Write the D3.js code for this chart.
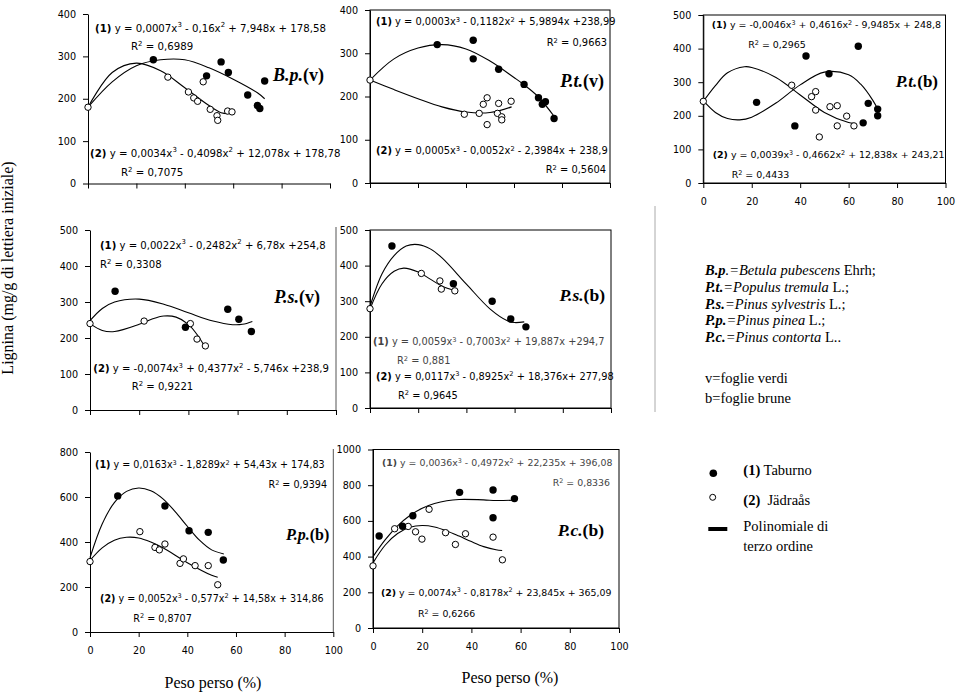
<!DOCTYPE html>
<html>
<head>
<meta charset="utf-8">
<script src="https://cdn.jsdelivr.net/npm/d3@7"></script>
<style>
  body { margin: 0; background: #fff; }
  svg { display: block; }
</style>
</head>
<body>
<div id="chart"></div>
<script>
// Lignina (mg/g di lettiera iniziale) vs peso perso (%), 7 pannelli

const width = 958;
const height = 693;

// tick values
const xTicks = [0, 20, 40, 60, 80, 100];
const yTicks400 = [0, 100, 200, 300, 400];
const yTicks500 = [0, 100, 200, 300, 400, 500];
const yTicks800 = [0, 200, 400, 600, 800];
const yTicks1000 = [0, 200, 400, 600, 800, 1000];

// [peso perso %, lignina] -- (1) Taburno = pieni, (2) Jädraås = vuoti
// B.p.(v)
const bpvTaburno = [[27,292],[49,254],[55,287],[58,262],[66,209],[70,184],[71,177],[73,242]];
const bpvJadraas = [[0,180],[33,251],[41.5,216],[43.7,202],[45.3,194],[47.6,240],[50.5,175],[53.3,160],[53.6,149],[57.7,171],[59.5,169]];
const bpvFit1 = [[0,180],[10,240],[20,278],[30,292],[40,292],[50,273],[60,246],[70,214],[73,200]];
const bpvFit2 = [[0,180],[10,262],[20,284],[30,266],[40,226],[50,184],[55,167],[58,165]];
// P.t.(v)
const ptvTaburno = [[28,320],[43,330],[43,287],[53.6,263],[64.2,228],[70.2,197],[71.8,182],[73.1,188],[76.7,149]];
const ptvJadraas = [[0,238],[39.3,159],[45.5,161],[47.2,182],[48.8,197],[48.8,135],[53.6,184],[53.1,161],[54.9,153],[54.9,146],[58.8,189]];
const ptvFit1 = [[0,238],[10,287],[20,312],[30,320],[40,310],[50,282],[60,244],[64,228],[70,200],[77,152]];
const ptvFit2 = [[0,238],[10,216],[20,195],[30,176],[40,164],[50,163],[59,176]];
// P.t.(b)
const ptbTaburno = [[22,240],[37.8,170],[42.4,378],[51.9,325],[64,407],[66,179],[68.1,237],[72,220],[72,200]];
const ptbJadraas = [[0,243],[36.5,291],[44.7,257],[46.4,272],[46.4,217],[52.3,227],[47.9,137],[55.3,230],[55.3,170],[59.2,199],[62.2,170]];
const ptbFit1 = [[0,245],[5,210],[10,192],[15,188],[20,196],[30,238],[40,292],[50,330],[60,322],[65,294],[70,246],[72,220]];
const ptbFit2 = [[0,243],[5,290],[10,328],[17,346],[20,344],[30,314],[40,262],[50,210],[60,180],[62,178]];
// P.s.(v)
const psvTaburno = [[10.2,330],[38.8,230],[56,280],[60.5,252],[65.6,218]];
const psvJadraas = [[0,240],[22,247],[40.8,240],[43.5,197],[46.9,178]];
const psvFit1 = [[0,248],[5,282],[10,300],[20,308],[30,294],[40,270],[50,247],[58,237],[62,238],[66,246]];
const psvFit2 = [[0,240],[5,221],[10,218],[20,238],[25,252],[30,261],[35,258],[40,238],[44,205],[46.5,178]];
// P.s.(b)
const psbTaburno = [[9.1,455],[34.6,349],[50.7,300],[58.4,250],[64.7,228]];
const psbJadraas = [[0,279],[21.3,378],[29,357],[29.6,334],[35.2,329]];
const psbFit1 = [[0,285],[5,377],[10,428],[15,455],[20,459],[25,447],[30,421],[40,348],[50,277],[57,245],[60,240],[64,242]];
const psbFit2 = [[0,278],[5,349],[10,384],[14,393],[20,382],[25,362],[30,342],[35,330]];
// P.p.(b)
const ppbTaburno = [[11.4,605],[30.8,560],[40.7,450],[48.6,443],[54.8,320]];
const ppbJadraas = [[0,313],[20.5,446],[26.7,376],[28.5,365],[30.8,391],[37,305],[38.4,325],[43.2,295],[48.6,295],[52.5,210]];
const ppbFit1 = [[0,330],[5,480],[10,575],[15,625],[20,640],[25,628],[30,592],[35,535],[40,470],[45,408],[50,365],[55,347]];
const ppbFit2 = [[0,318],[5,374],[10,408],[15,421],[20,418],[25,400],[30,374],[40,308],[50,252],[52.5,243]];
// P.c.(b)
const pcbTaburno = [[2.5,515],[12,570],[16.2,629],[35.2,760],[48.8,773],[48.8,618],[57.5,725]];
const pcbJadraas = [[0,348],[8.8,556],[14.3,569],[17.3,539],[19.9,498],[22.8,665],[29.5,534],[33.5,468],[37.6,528],[48.8,509],[52.6,382]];
const pcbFit1 = [[0,400],[5,495],[10,572],[15,630],[20,671],[25,697],[30,713],[35,720],[45,718],[50,714],[57,716]];
const pcbFit2 = [[0,365],[5,465],[10,529],[15,564],[20,574],[25,566],[30,544],[35,515],[40,484],[45,456],[50,438],[52.5,434]];

// equations (^n = apice)
const eqBpv = ["(1) y = 0,0007x^3 - 0,16x^2 + 7,948x + 178,58", "R^2 = 0,6989", "(2) y = 0,0034x^3 - 0,4098x^2 + 12,078x + 178,78", "R^2 = 0,7075"];
const eqPtv = ["(1) y = 0,0003x^3 - 0,1182x^2 + 5,9894x +238,99", "R^2 = 0,9663", "(2) y = 0,0005x^3 - 0,0052x^2 - 2,3984x + 238,9", "R^2 = 0,5604"];
const eqPtb = ["(1) y = -0,0046x^3 + 0,4616x^2 - 9,9485x + 248,8", "R^2 = 0,2965", "(2) y = 0,0039x^3 - 0,4662x^2 + 12,838x + 243,21", "R^2 = 0,4433"];
const eqPsv = ["(1) y = 0,0022x^3 - 0,2482x^2 + 6,78x +254,8", "R^2 = 0,3308", "(2) y = -0,0074x^3 + 0,4377x^2 - 5,746x +238,9", "R^2 = 0,9221"];
const eqPsb = ["(1) y = 0,0059x^3 - 0,7003x^2 + 19,887x +294,7", "R^2 = 0,881", "(2) y = 0,0117x^3 - 0,8925x^2 + 18,376x+ 277,98", "R^2 = 0,9645"];
const eqPpb = ["(1) y = 0,0163x^3 - 1,8289x^2 + 54,43x + 174,83", "R^2 = 0,9394", "(2) y = 0,0052x^3 - 0,577x^2 + 14,58x + 314,86", "R^2 = 0,8707"];
const eqPcb = ["(1) y = 0,0036x^3 - 0,4972x^2 + 22,235x + 396,08", "R^2 = 0,8336", "(2) y = 0,0074x^3 - 0,8178x^2 + 23,845x + 365,09", "R^2 = 0,6266"];

const speciesText = ["B.p.", "P.t.", "P.t.", "P.s.", "P.s.", "P.p.", "P.c."];
const typeText = ["(v)", "(v)", "(b)", "(v)", "(b)", "(b)", "(b)"];

const legendSpecies = [
  ["B.p", ".=", "Betula pubescens", " Ehrh;"],
  ["P.t.", "=", "Populus tremula", " L.;"],
  ["P.s.", "=", "Pinus sylvestris", " L.;"],
  ["P.p.", "=", "Pinus pinea", " L.;"],
  ["P.c.", "=", "Pinus contorta", " L.."]
];
const legendTypes = ["v=foglie verdi", "b=foglie brune"];
const legendMarks = ["(1)", " Taburno", "(2)", "  Jädraås", "Polinomiale di", "terzo ordine"];

const yTitle = "Lignina (mg/g di lettiera iniziale)";
const xTitle = "Peso perso (%)";

// panel placement (fs = equation font size, ls = label font size)
const panels = [
  {taburno: bpvTaburno, jadraas: bpvJadraas, fit1: bpvFit1, fit2: bpvFit2, eq: eqBpv,
   x0: 88, x1: 330, top: 14, bot: 183.5, yt: yTicks400, xlab: false, frame: "none", fs: 10.2, ls: 18,
   eqPos: [[95, 28, "start"], [131, 46.5, "start"], [90, 153, "start"], [121, 172.5, "start"]],
   lab: [324, 75]},
  {taburno: ptvTaburno, jadraas: ptvJadraas, fit1: ptvFit1, fit2: ptvFit2, eq: eqPtv,
   x0: 370, x1: 610, top: 10, bot: 183, yt: yTicks400, xlab: false, frame: "box", fs: 9.9, ls: 18,
   eqPos: [[376, 22, "start"], [607, 43, "end"], [376, 151, "start"], [606, 170, "end"]],
   lab: [604, 81]},
  {taburno: ptbTaburno, jadraas: ptbJadraas, fit1: ptbFit1, fit2: ptbFit2, eq: eqPtb,
   x0: 703.3, x1: 945.5, top: 15, bot: 183, yt: yTicks500, xlab: true, frame: "box", fs: 9.45, ls: 17,
   eqPos: [[711.7, 25, "start"], [748.3, 45, "start"], [712.7, 155, "start"], [731.7, 175, "start"]],
   lab: [938, 81.7]},
  {taburno: psvTaburno, jadraas: psvJadraas, fit1: psvFit1, fit2: psvFit2, eq: eqPsv,
   x0: 90, x1: 336, top: 230, bot: 410, yt: yTicks500, xlab: false, frame: "right", fs: 10.1, ls: 18,
   eqPos: [[100, 245, "start"], [100, 264.3, "start"], [93.3, 368.5, "start"], [131.7, 386.7, "start"]],
   lab: [320, 297]},
  {taburno: psbTaburno, jadraas: psbJadraas, fit1: psbFit1, fit2: psbFit2, eq: eqPsb,
   x0: 370, x1: 611, top: 230, bot: 408, yt: yTicks500, xlab: false, frame: "box", fs: 9.8, ls: 17.5,
   eqPos: [[373, 342, "start"], [397, 361, "start"], [376, 376.5, "start"], [398, 395.5, "start"]],
   lab: [605, 295.5]},
  {taburno: ppbTaburno, jadraas: ppbJadraas, fit1: ppbFit1, fit2: ppbFit2, eq: eqPpb,
   x0: 90, x1: 333.3, top: 452, bot: 632, yt: yTicks800, xlab: true, frame: "right", fs: 9.6, ls: 16,
   eqPos: [[95, 465, "start"], [327, 485, "end"], [100, 598.5, "start"], [133.3, 618.3, "start"]],
   lab: [329.3, 535], xt: [213, 683]},
  {taburno: pcbTaburno, jadraas: pcbJadraas, fit1: pcbFit1, fit2: pcbFit2, eq: eqPcb,
   x0: 373, x1: 619, top: 449.5, bot: 628, yt: yTicks1000, xlab: true, frame: "box", fs: 9.4, ls: 17.5,
   eqPos: [[382, 463, "start"], [610, 483, "end"], [381, 592.5, "start"], [418, 614, "start"]],
   lab: [604, 530.5], xt: [510, 677.5]}
];

const sans = "'DejaVu Sans', Verdana, sans-serif";
const serif = "'Times New Roman', 'Liberation Serif', 'DejaVu Serif', serif";

const svg = d3.select("#chart").append("svg")
  .attr("width", width)
  .attr("height", height)
  .attr("viewBox", [0, 0, width, height]);

// writes a string with (n) in bold and ^n as superscript
function eqText(g, str, x, yc, anchor, fill, fs) {
  const t = g.append("text")
    .attr("x", x).attr("y", yc + fs * 0.35)
    .attr("text-anchor", anchor)
    .attr("font-family", sans)
    .attr("font-size", fs)
    .attr("fill", fill);
  const parts = str.split(/(\^\d|\(\d\))/).filter(s => s.length);
  const up = fs * 0.4;
  let raised = false;
  parts.forEach(p => {
    if (p[0] === "^") {
      t.append("tspan").attr("font-size", fs * 0.68).attr("dy", -up).text(p.slice(1));
      raised = true;
    } else {
      const s = t.append("tspan").text(p);
      if (raised) { s.attr("dy", up); raised = false; }
      if (/^\(\d\)$/.test(p)) s.attr("font-weight", "bold");
    }
  });
}

const line = d3.line().curve(d3.curveCatmullRom.alpha(0.5));

panels.forEach((p, i) => {
  const g = svg.append("g");
  const x = d3.scaleLinear().domain([0, 100]).range([p.x0, p.x1]);
  const y = d3.scaleLinear().domain([0, d3.max(p.yt)]).range([p.bot, p.top]);

  // frame
  if (p.frame === "box") {
    g.append("rect")
      .attr("x", p.x0).attr("y", p.top)
      .attr("width", p.x1 - p.x0).attr("height", p.bot - p.top)
      .attr("fill", "none").attr("stroke", "#000").attr("stroke-width", 1);
  } else if (p.frame === "right") {
    g.append("line")
      .attr("x1", p.x1).attr("x2", p.x1).attr("y1", p.top - 3).attr("y2", p.bot)
      .attr("stroke", "#555").attr("stroke-width", 1);
  }

  // axes
  const ax = g.append("g")
    .attr("transform", `translate(0,${p.bot})`)
    .call(d3.axisBottom(x).tickValues(xTicks).tickSize(5).tickPadding(10).tickSizeOuter(0)
      .tickFormat(p.xlab ? d3.format("d") : () => ""));
  const ay = g.append("g")
    .attr("transform", `translate(${p.x0},0)`)
    .call(d3.axisLeft(y).tickValues(p.yt).tickSize(5).tickPadding(7).tickSizeOuter(0)
      .tickFormat(d3.format("d")));
  [ax, ay].forEach(a => {
    a.selectAll("text").attr("font-family", sans).attr("font-size", 9.6).attr("fill", "#000");
    a.selectAll("line, path").attr("stroke", "#000");
  });

  // trend lines
  [p.fit1, p.fit2].forEach(f => {
    g.append("path")
      .attr("d", line(f.map(d => [x(d[0]), y(d[1])])))
      .attr("fill", "none").attr("stroke", "#000").attr("stroke-width", 1.1);
  });

  // points
  g.selectAll(".open").data(p.jadraas).enter().append("circle")
    .attr("cx", d => x(d[0])).attr("cy", d => y(d[1])).attr("r", 3.2)
    .attr("fill", "#fff").attr("stroke", "#000").attr("stroke-width", 1);
  g.selectAll(".full").data(p.taburno).enter().append("circle")
    .attr("cx", d => x(d[0])).attr("cy", d => y(d[1])).attr("r", 3.7)
    .attr("fill", "#000");

  // equations
  p.eq.forEach((s, k) => {
    const pos = p.eqPos[k];
    const grey = (i === 4 || i === 6) && k < 2;
    eqText(g, s, pos[0], pos[1], pos[2], grey ? "#444" : "#000", p.fs);
  });

  // species label
  const lt = g.append("text")
    .attr("x", p.lab[0]).attr("y", p.lab[1] + p.ls * 0.34)
    .attr("text-anchor", "end")
    .attr("font-family", serif).attr("font-size", p.ls).attr("font-weight", "bold");
  lt.append("tspan").attr("font-style", "italic").text(speciesText[i]);
  lt.append("tspan").text(typeText[i]);

  if (p.xt) {
    g.append("text")
      .attr("x", p.xt[0]).attr("y", p.xt[1] + 5)
      .attr("text-anchor", "middle")
      .attr("font-family", serif).attr("font-size", 16)
      .text(xTitle);
  }
});

// y title
svg.append("text")
  .attr("transform", "translate(13,268) rotate(-90)")
  .attr("text-anchor", "middle")
  .attr("font-family", serif).attr("font-size", 16)
  .text(yTitle);

// separator line
svg.append("line")
  .attr("x1", 655).attr("x2", 655).attr("y1", 206).attr("y2", 412)
  .attr("stroke", "#aaa").attr("stroke-width", 1);

// species legend
const leg = svg.append("g").attr("font-family", serif).attr("font-size", 14.5);
legendSpecies.forEach((r, k) => {
  const t = leg.append("text").attr("x", 705).attr("y", 275 + k * 16.8);
  t.append("tspan").attr("font-weight", "bold").attr("font-style", "italic").text(r[0]);
  t.append("tspan").attr("font-style", "italic").text(r[1]);
  t.append("tspan").attr("font-style", "italic").text(r[2]);
  t.append("tspan").text(r[3]);
});
legendTypes.forEach((s, k) => {
  leg.append("text").attr("x", 705).attr("y", 383 + k * 20).text(s);
});

// marker legend
const lm = svg.append("g").attr("font-family", serif).attr("font-size", 14.5);
lm.append("circle").attr("cx", 713.3).attr("cy", 473.3).attr("r", 3.8).attr("fill", "#000");
lm.append("circle").attr("cx", 712.7).attr("cy", 497.3).attr("r", 3).attr("fill", "#fff").attr("stroke", "#000");
lm.append("rect").attr("x", 708.3).attr("y", 527).attr("width", 19).attr("height", 4).attr("fill", "#000");
[[470, 0], [500, 2]].forEach(([yy, k]) => {
  const t = lm.append("text").attr("x", 743.3).attr("y", yy + 5);
  t.append("tspan").attr("font-weight", "bold").text(legendMarks[k]);
  t.append("tspan").style("white-space", "pre").text(legendMarks[k + 1]);
});
lm.append("text").attr("x", 743.3).attr("y", 531).text(legendMarks[4]);
lm.append("text").attr("x", 743.3).attr("y", 551).text(legendMarks[5]);
</script>
</body>
</html>
